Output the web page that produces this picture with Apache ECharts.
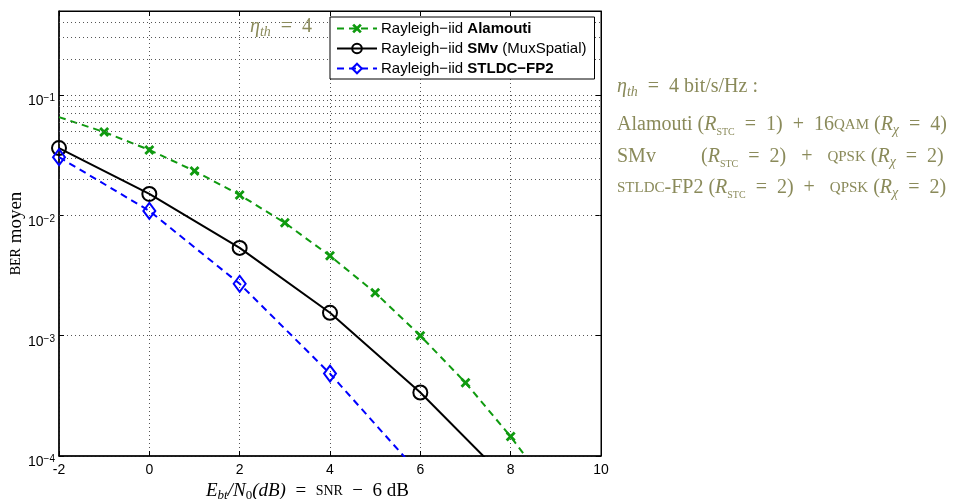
<!DOCTYPE html>
<html><head><meta charset="utf-8">
<script src="https://cdn.jsdelivr.net/npm/echarts@6/dist/echarts.min.js"></script>
<style>html,body{margin:0;padding:0;background:#fff}#c{width:970px;height:499px}</style>
</head><body><div id="c"></div>
<script>
// ---- data ----
const xTicks = [-2, 0, 2, 4, 6, 8, 10];
const yTickPowers = [-4, -3, -2, -1];
const seriesNames = ['Alamouti', 'SMv', 'STLDC'];
const alamoutiX   = [-2, -1, 0, 1, 2, 3, 4, 5, 6, 7, 8, 9];
const alamoutiBER = [0.0656, 0.0493, 0.0350, 0.0234, 0.0148, 0.00867, 0.00461, 0.00228, 0.00100, 0.000407, 0.000145, 0.000046];
const smvX   = [-2, 0, 2, 4, 6, 8];
const smvBER = [0.0363, 0.01507, 0.00537, 0.00155, 0.000337, 0.000059];
const stldcX   = [-2, 0, 2, 4, 6];
const stldcBER = [0.0305, 0.0109, 0.0027, 0.000484, 0.000070];
const minorGridValues = [2e-4,3e-4,4e-4,5e-4,6e-4,7e-4,8e-4,9e-4,
                         2e-3,3e-3,4e-3,5e-3,6e-3,7e-3,8e-3,9e-3,
                         2e-2,3e-2,4e-2,5e-2,6e-2,7e-2,8e-2,9e-2,
                         0.2,0.3,0.4];

const GREEN = '#0f9a0f', BLUE = '#0000ff', BLACK = '#000000', OLIVE = '#8a8a5a';
const xPath = 'path://M2,0 L5,3 L8,0 L10,2 L7,5 L10,8 L8,10 L5,7 L2,10 L0,8 L3,5 L0,2 Z';

const sans = '"Liberation Sans", Arial, sans-serif';
const serif = '"Liberation Serif", "DejaVu Serif", serif';

function pairs(xs, ys) { return xs.map((x, i) => [x, ys[i]]); }
const alamoutiData = pairs(alamoutiX, alamoutiBER).map((p, i) => i === 0 ? {value: p, symbol: 'none'} : p);

const chart = echarts.init(document.getElementById('c'), null, {renderer: 'canvas'});

const dotted = {color: '#555555', width: 1, type: [1, 3]};

const annRich = {
  n: {fontFamily: serif, fontSize: 20, fill: OLIVE, lineHeight: 24},
  i: {fontFamily: serif, fontStyle: 'italic', fontSize: 20, fill: OLIVE, lineHeight: 24},
  si: {fontFamily: serif, fontStyle: 'italic', fontSize: 14, fill: OLIVE, lineHeight: 14, verticalAlign: 'bottom'},
  ss: {fontFamily: serif, fontSize: 10, fill: OLIVE, lineHeight: 14, verticalAlign: 'bottom'},
  sc: {fontFamily: serif, fontSize: 15, fill: OLIVE, lineHeight: 24}
};
function ann(text, left, top) {
  return {type: 'text', left: left, top: top, z: 20,
    style: {text: text, fill: OLIVE, font: '20px ' + serif, rich: annRich}};
}

const option = {
  animation: false,
  backgroundColor: '#fff',
  grid: {left: 59, right: 369, top: 11, bottom: 43, show: true, borderColor: '#000', borderWidth: 1,
         backgroundColor: 'transparent', containLabel: false, outerBoundsMode: 'none'},
  legend: {
    orient: 'vertical', left: 330, top: 17,
    data: seriesNames,
    itemWidth: 40, itemHeight: 12, itemGap: 3,
    padding: [3, 8, 2, 6],
    borderColor: '#000', borderWidth: 1, borderRadius: 0, backgroundColor: '#fff',
    formatter: function (n) {
      if (n === 'Alamouti') return 'Rayleigh\u2212iid {b|Alamouti}';
      if (n === 'SMv') return 'Rayleigh\u2212iid {b|SMv} (MuxSpatial)';
      return 'Rayleigh\u2212iid {b|STLDC\u2212FP2}';
    },
    textStyle: {fontFamily: sans, fontSize: 15, color: '#000', lineHeight: 17, padding: [0, 0, 0, -1],
      rich: {b: {fontFamily: sans, fontSize: 15, fontWeight: 'bold', color: '#000', lineHeight: 17}}},
    z: 10
  },
  xAxis: [{
    type: 'value', min: xTicks[0], max: xTicks[xTicks.length - 1], interval: 2, position: 'bottom',
    axisLine: {show: true, onZero: false, lineStyle: {color: '#000', width: 1.5}},
    axisTick: {show: true, inside: true, length: 5, lineStyle: {color: '#000'}},
    axisLabel: {fontFamily: sans, fontSize: 14, color: '#000', margin: 7},
    splitLine: {show: true, lineStyle: dotted},
    name: '{i|E}{si|bt}{i|/N}{s|0}{i|(dB)}{n|  =  }{sc|SNR}{n|  \u2212  6 dB}',
    nameLocation: 'middle', nameGap: 19,
    nameTextStyle: {fontFamily: serif, fontSize: 19, color: '#000', padding: [0, 45, 0, 0],
      rich: {
        n: {fontFamily: serif, fontSize: 19, color: '#000', lineHeight: 22},
        i: {fontFamily: serif, fontStyle: 'italic', fontSize: 19, color: '#000', lineHeight: 22},
        si: {fontFamily: serif, fontStyle: 'italic', fontSize: 13, color: '#000', lineHeight: 13, verticalAlign: 'bottom'},
        s: {fontFamily: serif, fontSize: 13, color: '#000', lineHeight: 13, verticalAlign: 'bottom'},
        sc: {fontFamily: serif, fontSize: 14, color: '#000', lineHeight: 22}
      }}
  }, {
    type: 'value', min: xTicks[0], max: xTicks[xTicks.length - 1], interval: 2, position: 'top',
    axisLine: {show: true, onZero: false, lineStyle: {color: '#000', width: 1}},
    axisTick: {show: true, inside: true, length: 5, lineStyle: {color: '#000'}},
    axisLabel: {show: false}, splitLine: {show: false}
  }],
  yAxis: [{
    type: 'log', logBase: 10, min: 1e-4, max: 0.5, position: 'left',
    axisLine: {show: true, onZero: false, lineStyle: {color: '#000', width: 1.5}},
    axisTick: {show: true, inside: true, length: 5, lineStyle: {color: '#000'}},
    axisLabel: {
      margin: 4, color: '#000', fontFamily: sans, padding: [12, 0, 0, 0],
      formatter: function (v) {
        const e = Math.log10(v), r = Math.round(e);
        if (Math.abs(e - r) > 1e-6 || yTickPowers.indexOf(r) < 0) return '';
        return '{b|10}{s|\u2212' + (-r) + '}';
      },
      rich: {
        b: {fontFamily: sans, fontSize: 14, color: '#000', lineHeight: 15, verticalAlign: 'bottom'},
        s: {fontFamily: sans, fontSize: 10, color: '#000', lineHeight: 11, verticalAlign: 'top'}
      }
    },
    splitLine: {show: true, lineStyle: dotted},
    name: '{sc|BER} moyen', nameLocation: 'middle', nameGap: 33, nameRotate: 90, nameMoveOverlap: false,
    nameTextStyle: {fontFamily: serif, fontSize: 19, color: '#000',
      rich: {sc: {fontFamily: serif, fontSize: 14, color: '#000'}}}
  }, {
    type: 'log', logBase: 10, min: 1e-4, max: 0.5, position: 'right',
    axisLine: {show: true, onZero: false, lineStyle: {color: '#000', width: 1}},
    axisTick: {show: true, inside: true, length: 5, lineStyle: {color: '#000'}},
    axisLabel: {show: false}, splitLine: {show: false}
  }],
  series: [{
    name: 'Alamouti', type: 'line', data: alamoutiData, xAxisIndex: 0, yAxisIndex: 0,
    symbol: xPath, symbolSize: 10, clip: true,
    lineStyle: {color: GREEN, width: 2, type: [7, 5]},
    itemStyle: {color: GREEN}, z: 4,
    markLine: {
      silent: true, symbol: 'none', animation: false,
      label: {show: false},
      lineStyle: dotted,
      data: minorGridValues.map(v => ({yAxis: v}))
    }
  }, {
    name: 'SMv', type: 'line', data: pairs(smvX, smvBER), xAxisIndex: 0, yAxisIndex: 0,
    symbol: 'circle', symbolSize: 14, clip: true,
    lineStyle: {color: BLACK, width: 2, type: 'solid'},
    itemStyle: {color: 'rgba(255,255,255,0)', borderColor: BLACK, borderWidth: 2}, z: 5
  }, {
    name: 'STLDC', type: 'line', data: pairs(stldcX, stldcBER), xAxisIndex: 0, yAxisIndex: 0,
    symbol: 'diamond', symbolSize: [12, 16], clip: true,
    lineStyle: {color: BLUE, width: 2, type: [7, 5]},
    itemStyle: {color: 'rgba(255,255,255,0)', borderColor: BLUE, borderWidth: 2}, z: 6
  }],
  graphic: [
    ann('{i|\u03B7}{si|th}{n|  =  4}', 250, 17),
    ann('{i|\u03B7}{si|th}{n|  =  4 bit/s/Hz :}', 617, 77),
    ann('{n|Alamouti (}{i|R}{ss|STC}{n|  =  1)  +  16}{sc|QAM}{n| (}{i|R}{si|\u03C7}{n|  =  4)}', 617, 115),
    ann('{n|SMv}', 617, 147),
    ann('{n|(}{i|R}{ss|STC}{n|  =  2)   +   }{sc|QPSK}{n| (}{i|R}{si|\u03C7}{n|  =  2)}', 701, 147),
    ann('{sc|STLDC}{n|-FP2 (}{i|R}{ss|STC}{n|  =  2)  +   }{sc|QPSK}{n| (}{i|R}{si|\u03C7}{n|  =  2)}', 617, 178)
  ]
};
chart.setOption(option);
</script>
</body></html>
